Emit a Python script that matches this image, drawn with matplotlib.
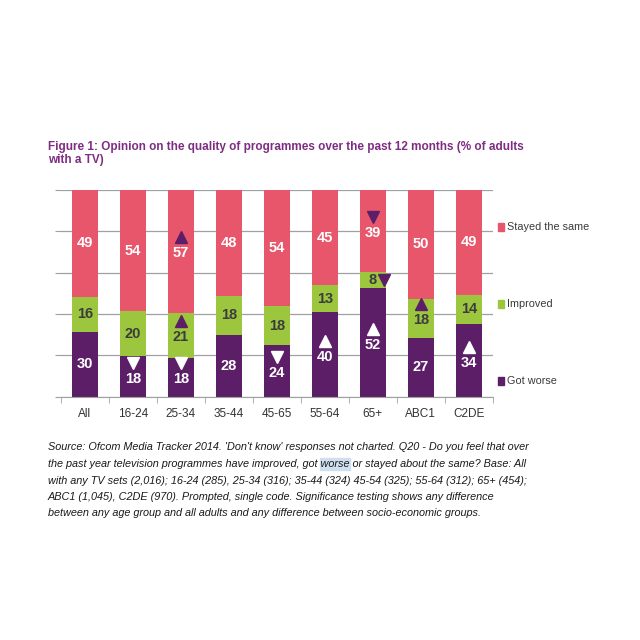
import matplotlib
matplotlib.use('Agg')
import matplotlib.pyplot as plt
from matplotlib.transforms import offset_copy
from matplotlib.patches import Rectangle
import numpy as np

plt.rcParams['font.family'] = ['Liberation Sans', 'DejaVu Sans']

categories = ['All', '16-24', '25-34', '35-44', '45-65', '55-64', '65+', 'ABC1', 'C2DE']
got_worse = [30, 18, 18, 28, 24, 40, 52, 27, 34]
improved = [16, 20, 21, 18, 18, 13, 8, 18, 14]
stayed_same = [49, 54, 57, 48, 54, 45, 39, 50, 49]

# significance arrows: (category index, series, direction, colour)
sig_marks = [
    (1, 'worse', 'down', 'white'),
    (2, 'worse', 'down', 'white'),
    (2, 'improved', 'up', 'purple'),
    (2, 'same', 'up', 'purple'),
    (4, 'worse', 'down', 'white'),
    (5, 'worse', 'up', 'white'),
    (6, 'worse', 'up', 'white'),
    (6, 'improved', 'down_right', 'purple'),
    (6, 'same', 'down', 'purple'),
    (7, 'improved', 'up', 'purple'),
    (8, 'worse', 'up', 'white'),
]

red = '#E8566B'
green = '#9DC63F'
purple = '#5C1F67'
title_col = '#7E2D82'

fig = plt.figure(figsize=(6.4, 6.4), dpi=100)
ax = fig.add_axes([0.095, 0.380, 0.675, 0.323])

x = np.arange(len(categories))
w = np.array(got_worse, float)
im = np.array(improved, float)
st = np.array(stayed_same, float)
tot = w + im + st
wp = w / tot * 100
ip = im / tot * 100
sp = st / tot * 100

bw = 0.55
ax.bar(x, wp, bw, color=purple, zorder=2)
ax.bar(x, ip, bw, bottom=wp, color=green, zorder=2)
ax.bar(x, sp, bw, bottom=wp + ip, color=red, zorder=2)

centres = {
    'worse': wp / 2,
    'improved': wp + ip / 2,
    'same': wp + ip + sp / 2,
}
raw = {'worse': got_worse, 'improved': improved, 'same': stayed_same}
txtcol = {'worse': 'white', 'improved': '#3c3c3c', 'same': 'white'}
marked = {(i, k) for i, k, d, c in sig_marks if d != 'down_right'}
for key in ['worse', 'improved', 'same']:
    for i in range(len(categories)):
        tr = ax.transData
        if (i, key) in marked:
            tr = offset_copy(ax.transData, fig, x=0, y=-2, units='dots')
        ax.text(x[i], centres[key][i], str(raw[key][i]), ha='center', va='center',
                color=txtcol[key], fontsize=10.5, fontweight='bold', zorder=4,
                transform=tr)

for i, key, d, c in sig_marks:
    col = 'white' if c == 'white' else purple
    if d == 'down_right':
        tr = offset_copy(ax.transData, fig, x=11, y=0, units='dots')
        mk = 'v'
    else:
        tr = offset_copy(ax.transData, fig, x=0, y=14, units='dots')
        mk = 'v' if d == 'down' else '^'
    ax.plot(x[i], centres[key][i], marker=mk, color=col, markersize=8.5,
            transform=tr, zorder=5, linestyle='none')

ax.set_xlim(-0.5, len(categories) - 0.5)
ax.set_ylim(0, 100)
ax.set_yticks(np.arange(0, 101, 20))
ax.set_yticklabels([])
ax.yaxis.grid(True, color='#a0a0a0', linewidth=0.9, zorder=0)
ax.set_axisbelow(True)
ax.set_xticks(x)
ax.set_xticklabels(categories, fontsize=8.5, color='#333333')
ax.set_xticks(np.arange(-0.5, len(categories), 1), minor=True)
ax.tick_params(axis='x', which='major', length=0, pad=8)
ax.tick_params(axis='x', which='minor', length=4, color='#a0a0a0')
ax.tick_params(axis='y', length=4, color='#a0a0a0')
for s in ['top', 'right', 'left']:
    ax.spines[s].set_visible(False)
ax.spines['bottom'].set_color('#a0a0a0')

# legend on the right
leg = [('Stayed the same', red, 0.645), ('Improved', green, 0.525), ('Got worse', purple, 0.405)]
for lab, col, yy in leg:
    fig.patches.append(Rectangle((0.778, yy - 0.0065), 0.010, 0.013, color=col,
                                 transform=fig.transFigure, figure=fig))
    fig.text(0.792, yy, lab, fontsize=7.8, color='#3a3a3a', va='center', ha='left')

fig.text(0.075, 0.780, 'Figure 1: Opinion on the quality of programmes over the past 12 months (% of adults\nwith a TV)',
         fontsize=8.5, fontweight='bold', color=title_col, va='top', ha='left', linespacing=1.15)

notes = [
    "Source: Ofcom Media Tracker 2014. 'Don't know' responses not charted. Q20 - Do you feel that over",
    "the past year television programmes have improved, got worse or stayed about the same? Base: All",
    "with any TV sets (2,016); 16-24 (285), 25-34 (316); 35-44 (324) 45-54 (325); 55-64 (312); 65+ (454);",
    "ABC1 (1,045), C2DE (970). Prompted, single code. Significance testing shows any difference",
    "between any age group and all adults and any difference between socio-economic groups.",
]
ys = [0.301, 0.275, 0.249, 0.224, 0.199]
fs = 7.85
for line, yy in zip(notes, ys):
    fig.text(0.075, yy, line, fontsize=fs, style='italic', color='#1a1a1a', va='center', ha='left')

# highlight on "worse" in the second line
fig.canvas.draw()
r = fig.canvas.get_renderer()
pre = fig.text(0.075, ys[1], 'the past year television programmes have improved, got ', fontsize=fs,
               style='italic', va='center', ha='left', alpha=0)
wd = fig.text(0.075, ys[1], 'worse', fontsize=fs, style='italic', va='center', ha='left', alpha=0)
bb1 = pre.get_window_extent(r)
bb2 = wd.get_window_extent(r)
x0 = bb1.x1 / fig.bbox.width
ww = bb2.width / fig.bbox.width
fig.patches.append(Rectangle((x0 - 0.001, ys[1] - 0.010), ww + 0.002, 0.019, color='#cfdff0',
                             transform=fig.transFigure, figure=fig, zorder=-1))

fig.savefig('out.png', dpi=100, facecolor='white')
